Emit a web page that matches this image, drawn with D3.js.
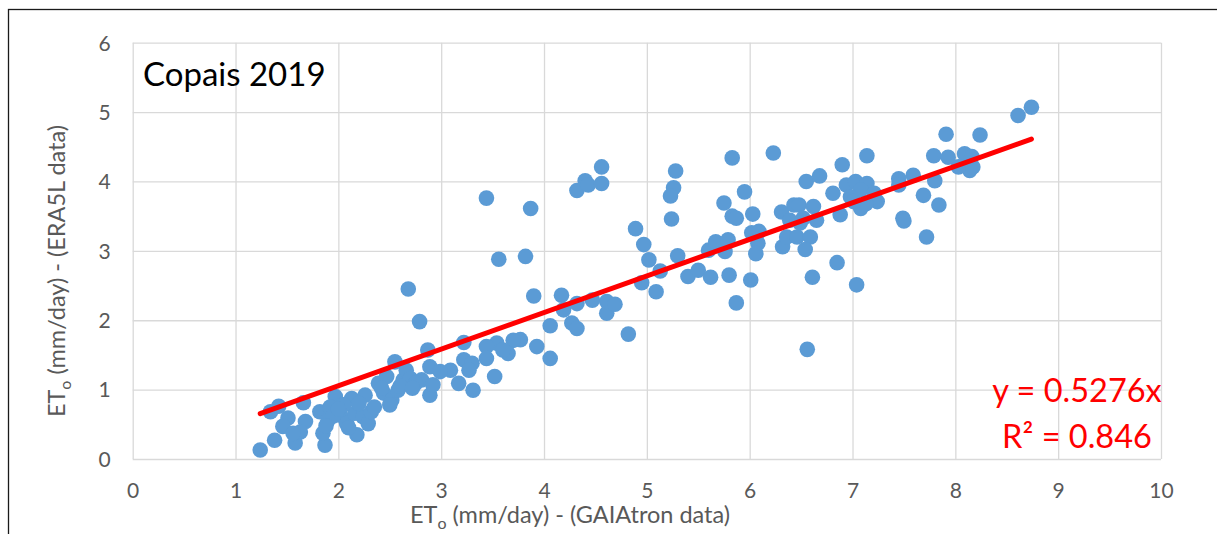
<!DOCTYPE html>
<html>
<head>
<meta charset="utf-8">
<script src="https://cdn.jsdelivr.net/npm/d3@7"></script>
<style>
  body { margin: 0; background: #fff; }
  svg text { font-family: Lato, "Open Sans", sans-serif; }
</style>
</head>
<body>
<div id="chart"></div>
<script>
// ETo values (GAIAtron on x, ERA5L on y)
const gaiatron = [
  1.24, 1.34, 1.42, 1.38, 1.51, 1.46, 1.66, 1.68, 1.58, 1.63, 1.56, 1.82, 1.87, 1.85, 1.90,
  1.97, 1.92, 2.02, 2.08, 2.13, 2.18, 2.16, 2.24, 2.29, 2.26, 2.32, 2.39, 2.47, 2.44, 2.52,
  2.55, 2.50, 2.63, 2.66, 2.70, 2.79, 2.68, 2.87, 2.89, 2.81, 2.89, 2.92, 2.58, 2.75,
  1.95, 2.05, 2.10, 2.20, 2.35, 2.00, 1.88, 2.42, 2.60, 2.72,
  3.44, 3.87, 3.56, 3.82, 4.32, 4.40, 4.43, 4.56, 4.56, 4.89, 3.90, 4.17, 4.06, 4.19, 4.27,
  4.32, 4.32, 4.47, 4.61, 4.61, 4.69, 4.82, 4.06, 3.93, 3.77, 3.70, 3.65, 3.54, 3.44, 3.44,
  3.52, 3.22, 3.22, 3.30, 3.27, 3.09, 2.99, 3.17, 3.31, 3.60,
  5.83, 6.23, 5.28, 5.26, 5.23, 5.24, 4.97, 5.02, 5.13, 4.95, 5.09, 5.30, 5.40, 5.50, 5.62,
  5.60, 5.67, 5.76, 5.79, 5.80, 5.87, 5.75, 5.83, 5.87, 5.95, 6.03, 6.01, 6.02, 6.09, 6.08,
  6.06, 6.31, 6.32, 6.36, 6.43, 6.48, 6.46, 6.55, 6.68, 6.62, 6.65, 6.59, 6.54, 6.61, 6.56,
  6.52, 6.85, 6.81, 6.90, 6.88, 6.39, 6.49,
  8.74, 8.61, 8.24, 7.91, 7.79, 7.93, 8.09, 8.16, 8.03, 8.14, 8.17, 7.14, 7.45, 7.45, 7.59,
  7.80, 7.69, 7.84, 7.49, 7.50, 7.72, 7.04, 6.94, 7.03, 7.14, 7.08, 6.98, 7.21, 7.24, 7.08,
  7.13, 7.01
];
const era5l = [
  0.13, 0.68, 0.76, 0.27, 0.59, 0.47, 0.81, 0.54, 0.23, 0.39, 0.37, 0.68, 0.20, 0.37, 0.56,
  0.90, 0.75, 0.63, 0.51, 0.87, 0.35, 0.66, 0.61, 0.51, 0.92, 0.68, 1.09, 1.19, 0.95, 0.85,
  1.40, 0.78, 1.14, 1.28, 1.16, 1.98, 2.45, 1.57, 1.33, 1.14, 0.92, 1.07, 0.99, 1.09,
  0.62, 0.78, 0.45, 0.80, 0.75, 0.72, 0.48, 1.02, 1.05, 1.02,
  3.76, 3.61, 2.88, 2.92, 3.87, 4.01, 3.95, 4.21, 3.97, 3.32, 2.35, 2.36, 1.92, 2.15, 1.96,
  1.88, 2.24, 2.29, 2.10, 2.27, 2.23, 1.80, 1.45, 1.62, 1.72, 1.71, 1.52, 1.67, 1.62, 1.45,
  1.19, 1.68, 1.43, 1.38, 1.28, 1.28, 1.26, 1.09, 0.99, 1.57,
  4.34, 4.41, 4.15, 3.91, 3.79, 3.46, 3.09, 2.87, 2.71, 2.54, 2.41, 2.93, 2.63, 2.72, 2.62,
  3.01, 3.13, 2.99, 3.16, 2.65, 2.25, 3.69, 3.50, 3.47, 3.85, 3.53, 2.58, 3.26, 3.28, 3.11,
  2.96, 3.56, 3.06, 3.20, 3.66, 3.66, 3.20, 4.00, 4.08, 3.64, 3.44, 3.20, 3.02, 2.62, 1.58,
  3.47, 2.83, 3.83, 4.24, 3.52, 3.44, 3.40,
  5.07, 4.95, 4.67, 4.68, 4.37, 4.35, 4.40, 4.36, 4.21, 4.16, 4.21, 4.37, 4.04, 3.95, 4.09,
  4.01, 3.80, 3.66, 3.47, 3.43, 3.20, 2.51, 3.95, 4.00, 3.97, 3.88, 3.78, 3.83, 3.71, 3.61,
  3.68, 3.71
];
const xTicks = [0, 1, 2, 3, 4, 5, 6, 7, 8, 9, 10];
const yTicks = [0, 1, 2, 3, 4, 5, 6];
const slope = 0.5276;
const rSquared = 0.846;
const chartTitle = "Copais 2019";

const W = 1217, H = 534;
const margin = { top: 42.7, right: 56, bottom: 75, left: 132.7 };
const width = 1161 - margin.left,
  height = 459 - margin.top;

const svg = d3.select("#chart").append("svg")
  .attr("width", W)
  .attr("height", H);

// chart frame (runs off the right and bottom edges)
svg.append("rect")
  .attr("x", 8.5).attr("y", 9.5)
  .attr("width", W + 20).attr("height", H + 20)
  .attr("fill", "#fff")
  .attr("stroke", "#1a1a1a")
  .attr("stroke-width", 1.3);

const g = svg.append("g")
  .attr("transform", "translate(" + margin.left + "," + margin.top + ")");

const x = d3.scaleLinear().domain([0, 10]).range([0, width]);
const y = d3.scaleLinear().domain([0, 6]).range([height, 0]);

// x axis + vertical gridlines
const xAxis = g.append("g")
  .attr("transform", "translate(0," + height + ")")
  .call(d3.axisBottom(x).tickValues(xTicks).tickFormat(d3.format("d"))
    .tickSizeInner(-height).tickSizeOuter(0).tickPadding(24));
// y axis + horizontal gridlines
const yAxis = g.append("g")
  .call(d3.axisLeft(y).tickValues(yTicks).tickFormat(d3.format("d"))
    .tickSizeInner(-width).tickSizeOuter(0).tickPadding(22));

[xAxis, yAxis].forEach(a => {
  a.select(".domain").remove();
  a.selectAll("line").attr("stroke", "#d9d9d9").attr("stroke-width", 1.3);
  a.selectAll("text")
    .attr("fill", "#595959")
    .style("font-size", "21px");
});
yAxis.selectAll("text").attr("dy", "0.35em");

// points
g.append("g")
  .selectAll("circle")
  .data(gaiatron.map((v, i) => ({ x: v, y: era5l[i] })))
  .enter()
  .append("circle")
  .attr("cx", d => x(d.x))
  .attr("cy", d => y(d.y))
  .attr("r", 7.8)
  .attr("fill", "#5b9bd5");

// linear trendline through origin
const ext = d3.extent(gaiatron);
g.append("path")
  .datum(ext.map(v => ({ x: v, y: slope * v })))
  .attr("fill", "none")
  .attr("stroke", "#ff0000")
  .attr("stroke-width", 5)
  .attr("stroke-linecap", "round")
  .attr("d", d3.line().x(d => x(d.x)).y(d => y(d.y)));

// title inside plot
svg.append("text")
  .attr("x", 143).attr("y", 86)
  .attr("fill", "#000")
  .style("font-size", "33px")
  .text(chartTitle);

// equation
const eq = svg.append("g").attr("fill", "#ff0000").style("font-size", "32.5px").attr("text-anchor", "middle");
eq.append("text").attr("x", 1077).attr("y", 401.5).text("y = " + slope + "x");
eq.append("text").attr("x", 1077).attr("y", 447.5).text("R² = " + rSquared);

// axis titles
const xt = svg.append("text")
  .attr("x", 570).attr("y", 523)
  .attr("text-anchor", "middle")
  .attr("fill", "#595959")
  .style("font-size", "23.5px");
xt.append("tspan").text("ET");
xt.append("tspan").attr("dy", 6).style("font-size", "16px").text("o");
xt.append("tspan").attr("dy", -6).text(" (mm/day) - (GAIAtron data)");

const yt = svg.append("text")
  .attr("transform", "translate(65,271) rotate(-90)")
  .attr("text-anchor", "middle")
  .attr("fill", "#595959")
  .style("font-size", "23.5px");
yt.append("tspan").text("ET");
yt.append("tspan").attr("dy", 6).style("font-size", "16px").text("o");
yt.append("tspan").attr("dy", -6).text(" (mm/day) - (ERA5L data)");
</script>
</body>
</html>
